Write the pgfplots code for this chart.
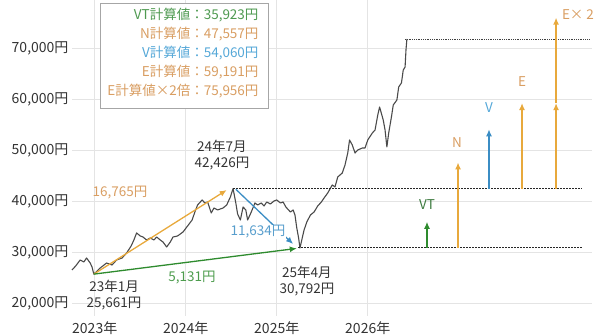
\documentclass[border=0pt]{standalone}
\usepackage{fontspec}
\setmainfont{Noto Sans CJK JP}
\usepackage{pgfplots}
\pgfplotsset{compat=1.18}
\usetikzlibrary{arrows.meta}
\definecolor{gold}{HTML}{E8A93C}
\definecolor{tan}{HTML}{D99E62}
\definecolor{agreen}{HTML}{2E8B2E}
\definecolor{tgreen}{HTML}{4E9A50}
\definecolor{ablue}{HTML}{3B8DC4}
\definecolor{tblue}{HTML}{55A8D8}
\definecolor{gridgray}{HTML}{E4E4E4}
\definecolor{labelgray}{HTML}{333333}
\definecolor{pricegray}{HTML}{4A4A4A}
\pgfplotstableread{
x y
2022.750 26470
2022.79 27250
2022.84 28430
2022.88 28040
2022.91 28820
2022.95 27840
2022.97 27060
2022.99 25661
2023.06 26860
2023.13 27840
2023.19 27450
2023.24 28430
2023.30 28820
2023.35 29800
2023.40 31180
2023.43 32350
2023.46 33730
2023.50 33140
2023.53 32940
2023.57 32350
2023.61 32750
2023.65 32350
2023.68 32940
2023.72 32350
2023.75 31960
2023.79 30980
2023.83 31960
2023.86 32940
2023.91 33140
2023.97 33920
2024.02 35100
2024.07 36270
2024.10 37840
2024.13 39220
2024.18 40200
2024.21 39610
2024.24 39800
2024.28 37650
2024.31 38630
2024.35 38240
2024.41 38630
2024.45 39220
2024.49 40780
2024.52 42426
2024.55 39610
2024.57 37450
2024.60 36270
2024.63 38820
2024.66 38240
2024.68 36270
2024.72 37840
2024.76 39610
2024.79 39220
2024.83 39610
2024.86 39020
2024.89 39800
2024.93 39410
2024.97 40000
2025.00 40200
2025.04 39610
2025.07 39800
2025.10 38820
2025.15 37840
2025.18 38240
2025.20 37250
2025.22 34710
2025.24 32750
2025.255 30792
2025.28 32750
2025.30 34310
2025.33 35880
2025.37 37250
2025.41 37840
2025.45 39020
2025.49 39800
2025.52 40590
2025.56 41570
2025.61 43140
2025.64 42750
2025.67 44710
2025.72 45490
2025.75 47060
2025.78 49410
2025.80 51960
2025.83 50980
2025.86 49410
2025.89 50000
2025.94 50390
2025.97 50390
2026.00 51960
2026.05 53330
2026.08 53920
2026.11 56860
2026.13 58430
2026.17 55880
2026.19 53920
2026.21 50600
2026.23 53330
2026.26 56470
2026.28 58820
2026.32 59800
2026.34 62350
2026.37 63140
2026.39 65690
2026.41 66270
2026.42 69610
2026.43 71760
}\price
\begin{document}
\begin{tikzpicture}[x=1pt,y=1pt]
\useasboundingbox (-72,-20) rectangle (528,316);
\begin{axis}[
  scale only axis, width=520pt, height=316pt,
  at={(0,0)}, anchor=south west,
  xmin=2022.75, xmax=2028.464, ymin=17450, ymax=79412,
  axis line style={draw=none}, major tick length=0pt,
  xtick={2023,2024,2025,2026},
  xticklabels={2023年,2024年,2025年,2026年},
  ytick={20000,30000,40000,50000,60000,70000},
  yticklabels={{20,000円},{30,000円},{40,000円},{50,000円},{60,000円},{70,000円}},
  grid=major, major grid style={color=gridgray, line width=0.7pt},
  tick label style={font=\fontsize{14}{15}\selectfont, text=labelgray},
  xticklabel style={yshift=-2pt},
  clip=false,
]
\addplot[color=pricegray, line width=1.1pt, line join=round] table[x=x,y=y] {\price};

% dotted reference lines
\draw[black!85, line width=1pt, dash pattern=on 1.6pt off 1.4pt] (axis cs:2024.52,42426) -- (axis cs:2028.354,42426);
\draw[black!85, line width=1pt, dash pattern=on 1.6pt off 1.4pt] (axis cs:2025.234,30792) -- (axis cs:2028.354,30792);
\draw[black!75, line width=0.6pt, dash pattern=on 0.8pt off 1pt] (axis cs:2026.41,71760) -- (axis cs:2028.44,71760);

% left arrows
\draw[gold, line width=1.3pt, -{Latex[length=7pt,width=6pt]}] (axis cs:2022.99,25661) -- (axis cs:2024.45,42150);
\draw[agreen, line width=1.3pt, -{Latex[length=7pt,width=6pt]}] (axis cs:2022.99,25661) -- (axis cs:2025.22,30700);
\draw[ablue, line width=1.3pt, -{Latex[length=7pt,width=6pt]}] (axis cs:2024.55,42300) -- (axis cs:2025.179,31570);

\node[text=tan, font=\fontsize{13.5}{15}\selectfont] at (axis cs:2023.277,41570) {16,765円};
\node[text=agreen!85!white, font=\fontsize{13.5}{15}\selectfont] at (axis cs:2024.069,24900) {5,131円};
\node[text=ablue!85!white, fill=white, inner sep=1pt, font=\fontsize{13.5}{15}\selectfont] at (axis cs:2024.794,33920) {11,634円};

\node[text=labelgray, align=center, font=\fontsize{13.5}{16}\selectfont] at (axis cs:2024.398,49020) {24年7月\\42,426円};
\node[text=labelgray, align=center, font=\fontsize{13.5}{16}\selectfont] at (axis cs:2023.212,21570) {23年1月\\25,661円};
\node[text=labelgray, align=center, font=\fontsize{13.5}{16}\selectfont] at (axis cs:2025.332,24310) {25年4月\\30,792円};

% right arrows
\draw[agreen, line width=1.3pt, -{Latex[length=7pt,width=6pt]}] (axis cs:2026.651,30792) -- (axis cs:2026.651,35923);
\draw[gold, line width=1.3pt, -{Latex[length=7pt,width=6pt]}] (axis cs:2026.992,30792) -- (axis cs:2026.992,47557);
\draw[ablue, line width=1.3pt, -{Latex[length=7pt,width=6pt]}] (axis cs:2027.332,42426) -- (axis cs:2027.332,54060);
\draw[gold, line width=1.3pt, -{Latex[length=7pt,width=6pt]}] (axis cs:2027.695,42426) -- (axis cs:2027.695,59191);
\draw[gold, line width=1.3pt, -{Latex[length=7pt,width=6pt]}] (axis cs:2028.069,42426) -- (axis cs:2028.069,59191);
\draw[gold, line width=1.3pt, -{Latex[length=7pt,width=6pt]}] (axis cs:2028.069,59191) -- (axis cs:2028.069,75956);

\node[text=tgreen!80!black, font=\fontsize{13.5}{15}\selectfont] at (axis cs:2026.651,39216) {VT};
\node[text=tan, font=\fontsize{13.5}{15}\selectfont] at (axis cs:2026.981,51370) {N};
\node[text=tblue, font=\fontsize{13.5}{15}\selectfont] at (axis cs:2027.332,58235) {V};
\node[text=tan, font=\fontsize{13.5}{15}\selectfont] at (axis cs:2027.695,63333) {E};
\node[text=tan, font=\fontsize{13.5}{15}\selectfont] at (axis cs:2028.31,76470) {E× 2};

% info box
\draw[black!35, line width=0.7pt, fill=white] (axis cs:2023.058,78824) rectangle (axis cs:2024.904,58235);
\node[anchor=east, text=tgreen, font=\fontsize{13.5}{15}\selectfont] at (axis cs:2024.838,76470) {VT計算値：35,923円};
\node[anchor=east, text=tan, font=\fontsize{13.5}{15}\selectfont] at (axis cs:2024.838,72745) {N計算値：47,557円};
\node[anchor=east, text=tblue, font=\fontsize{13.5}{15}\selectfont] at (axis cs:2024.838,69020) {V計算値：54,060円};
\node[anchor=east, text=tan, font=\fontsize{13.5}{15}\selectfont] at (axis cs:2024.838,65294) {E計算値：59,191円};
\node[anchor=east, text=tan, font=\fontsize{13.5}{15}\selectfont] at (axis cs:2024.838,61569) {E計算値×2倍：75,956円};
\end{axis}
\end{tikzpicture}
\end{document}
